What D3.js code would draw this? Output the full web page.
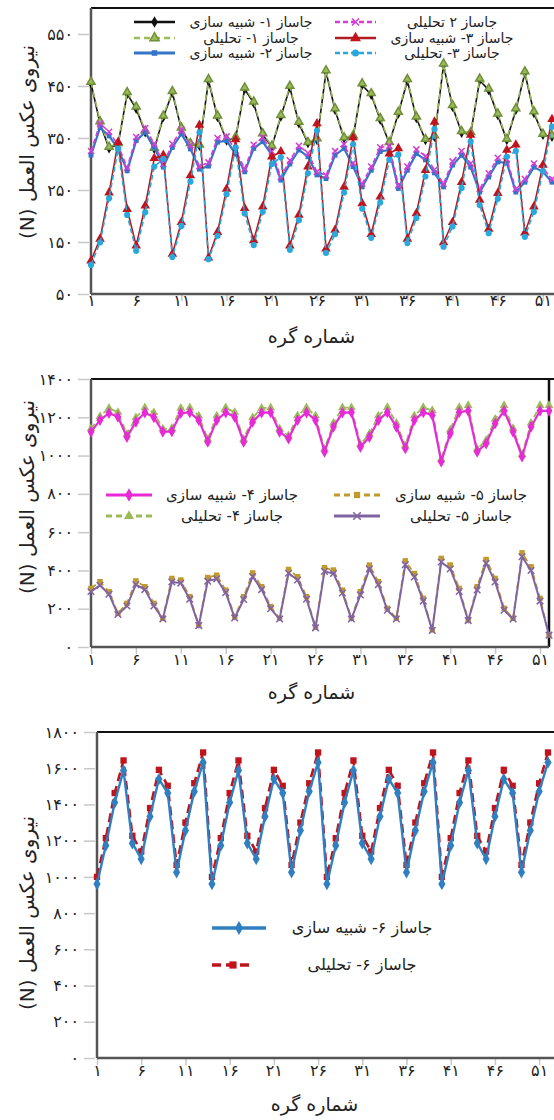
<!DOCTYPE html>
<html>
<head>
<meta charset="utf-8">
<script src="https://cdn.jsdelivr.net/npm/d3@7"></script>
<style>
  body { margin: 0; background: #fff; }
  text { font-family: "DejaVu Sans", sans-serif; }
</style>
</head>
<body>
<svg id="chart" width="554" height="1120"></svg>
<script>
// node numbers on the x axis
var nodes = d3.range(1, 53);
var xTickNodes = [1, 6, 11, 16, 21, 26, 31, 36, 41, 46, 51];

// panel 1 (jacks 1-3)
var yTicks1 = [50, 150, 250, 350, 450, 550];
var sim1 = [455,378,330,338,435,406,361,329,390,437,367,338,335,
            460,390,345,350,444,417,356,333,391,447,378,340,346,
            477,404,349,352,452,433,385,340,397,460,388,346,352,
            490,410,360,358,461,442,394,346,404,475,398,356,352];
var ana1 = [458,382,333,340,438,410,364,331,393,440,370,340,337,
            463,393,348,352,447,420,359,335,394,450,381,342,349,
            480,407,351,355,455,436,388,342,400,463,391,348,355,
            493,413,363,361,464,445,397,348,407,478,401,358,355];
var sim2 = [317,370,354,329,287,345,361,332,294,332,358,329,290,
            296,342,345,319,285,330,343,317,269,300,327,314,279,
            272,317,330,295,256,288,324,327,253,288,320,308,283,
            256,298,317,294,246,275,304,302,246,265,294,285,265];
var ana2 = [325,378,362,336,293,352,369,339,300,339,366,336,296,
            303,350,353,326,291,337,351,324,275,307,335,321,285,
            278,325,338,302,262,295,332,335,259,295,328,315,289,
            262,305,325,301,252,282,312,309,252,271,301,292,271];
var sim3 = [114,156,245,342,213,143,220,311,317,127,188,278,375,
            120,169,252,347,215,153,218,314,324,143,202,295,378,
            137,173,256,351,224,165,237,320,330,156,205,288,381,
            149,188,265,356,231,175,244,327,337,168,218,298,386];
var ana3 = [106,149,234,329,202,133,207,295,310,121,181,266,361,
            117,162,242,332,205,144,208,300,313,135,192,282,364,
            129,165,245,338,214,158,226,308,318,148,196,276,367,
            141,180,254,343,221,167,233,314,325,160,208,286,372];

// panel 2 (jacks 4-5)
var yTicks2 = [0, 200, 400, 600, 800, 1000, 1200, 1400];
var sim4 = [1124,1185,1222,1202,1097,1176,1225,1200,1124,1126,1222,1226,1185,
            1071,1185,1225,1202,1071,1176,1224,1226,1124,1089,1185,1225,1185,
            1020,1150,1224,1226,1045,1097,1185,1226,1150,1037,1185,1226,1211,
            968,1115,1226,1234,1020,1063,1167,1234,1124,994,1150,1234,1234];
var ana4 = [1140,1205,1248,1226,1112,1198,1250,1225,1140,1142,1248,1250,1208,
            1086,1208,1250,1226,1086,1198,1248,1250,1140,1104,1208,1250,1208,
            1034,1170,1250,1250,1060,1113,1208,1252,1170,1052,1208,1252,1236,
            980,1134,1252,1262,1034,1080,1190,1262,1142,1006,1170,1262,1262];
var sim5 = [306,341,289,176,228,345,315,228,150,358,350,263,115,
            363,375,297,158,263,387,315,211,150,405,367,263,103,
            414,402,297,150,289,428,341,202,150,450,384,254,89,
            463,428,306,141,315,457,358,202,150,492,419,254,63];
var ana5 = [290,322,276,170,214,326,300,214,146,340,334,250,112,
            344,356,284,152,248,368,300,200,146,385,350,250,100,
            395,384,282,146,272,408,326,192,146,430,366,240,86,
            444,408,290,138,298,438,340,192,146,472,400,240,62];

// panel 3 (jack 6)
var yTicks3 = [0, 200, 400, 600, 800, 1000, 1200, 1400, 1600, 1800];
var sim6 = [961,1173,1411,1588,1186,1099,1334,1540,1463,1025,1256,1472,1632,
            961,1173,1411,1588,1186,1099,1334,1540,1463,1025,1256,1472,1632,
            961,1173,1411,1588,1186,1099,1334,1540,1463,1025,1256,1472,1632,
            961,1173,1411,1588,1186,1099,1334,1540,1463,1025,1256,1472,1632];
var ana6 = [1000,1214,1463,1643,1227,1140,1380,1591,1503,1066,1300,1517,1687,
            1000,1214,1463,1643,1227,1140,1380,1591,1503,1066,1300,1517,1687,
            1000,1214,1463,1643,1227,1140,1380,1591,1503,1066,1300,1517,1687,
            1000,1214,1463,1643,1227,1140,1380,1591,1503,1066,1300,1517,1687];

var yTitle = "نیروی عکس العمل (N)";
var xTitle = "شماره گره";

function fa(v) {
    return String(v).replace(/\d/g, function(d) { return "۰۱۲۳۴۵۶۷۸۹"[d]; });
}

var svg = d3.select("#chart");

var panels = [
  {
    left: 91, right: 552, top: 8, bottom: 294, ymin: 50, ymax: 600, ticks: yTicks1,
    xlabY: 313, xtitleY: 343, ytitleY: 142, rightEdge: false,
    series: [
      {v: sim1, color: "#111", w: 1.6, sym: d3.symbolDiamond, ms: 30, fill: "#111"},
      {v: ana1, color: "#9bbb59", w: 1.6, dash: "6,4", sym: d3.symbolTriangle, ms: 28, fill: "#9bbb59", stroke: "#6f8f3a"},
      {v: sim2, color: "#3575c8", w: 2.2, sym: d3.symbolSquare, ms: 24, fill: "#3575c8"},
      {v: ana2, color: "#d23ed6", w: 1.6, dash: "5,3", sym: d3.symbolTimes, ms: 26, fill: "#d23ed6", stroke: "#d23ed6"},
      {v: sim3, color: "#b01c22", w: 1.6, sym: d3.symbolTriangle, ms: 40, fill: "#c0141c"},
      {v: ana3, color: "#2aa8dc", w: 1.6, dash: "5,3", sym: d3.symbolCircle, ms: 30, fill: "#2aa8dc"}
    ],
    legend: {font: 14, lineX: [134, 175, 335, 376], textX: [251, 452], rows: [22, 38, 53],
      items: [
        {s: 0, col: 0, row: 0, t: "جاساز ۱- شبیه سازی"},
        {s: 3, col: 1, row: 0, t: "جاساز ۲  تحلیلی"},
        {s: 1, col: 0, row: 1, t: "جاساز ۱- تحلیلی"},
        {s: 4, col: 1, row: 1, t: "جاساز ۳- شبیه سازی"},
        {s: 2, col: 0, row: 2, t: "جاساز ۲- شبیه سازی"},
        {s: 5, col: 1, row: 2, t: "جاساز ۳- تحلیلی"}
      ]}
  },
  {
    left: 91, right: 549, top: 379, bottom: 647, ymin: 0, ymax: 1400, ticks: yTicks2,
    xlabY: 672, xtitleY: 699, ytitleY: 497, rightEdge: true,
    series: [
      {v: ana4, color: "#9bbb59", w: 1.8, dash: "6,4", sym: d3.symbolTriangle, ms: 34, fill: "#9bbb59"},
      {v: sim4, color: "#e62ad6", w: 2.2, sym: d3.symbolDiamond, ms: 40, fill: "#e62ad6"},
      {v: sim5, color: "#c29a2c", w: 1.8, dash: "6,4", sym: d3.symbolSquare, ms: 30, fill: "#c29a2c"},
      {v: ana5, color: "#8064a2", w: 2, sym: d3.symbolTimes, ms: 30, fill: "#8064a2", stroke: "#8064a2"}
    ],
    legend: {font: 15, lineX: [106, 152, 334, 380], textX: [232, 461], rows: [495, 516],
      items: [
        {s: 1, col: 0, row: 0, t: "جاساز ۴- شبیه سازی"},
        {s: 2, col: 1, row: 0, t: "جاساز ۵- شبیه سازی"},
        {s: 0, col: 0, row: 1, t: "جاساز ۴- تحلیلی"},
        {s: 3, col: 1, row: 1, t: "جاساز ۵- تحلیلی"}
      ]}
  },
  {
    left: 97, right: 548, top: 732, bottom: 1058, ymin: 0, ymax: 1800, ticks: yTicks3,
    xlabY: 1083, xtitleY: 1111, ytitleY: 913, rightEdge: false,
    series: [
      {v: ana6, color: "#c0141c", w: 2.6, dash: "9,5", sym: d3.symbolSquare, ms: 40, fill: "#c0141c"},
      {v: sim6, color: "#2f7fc1", w: 2.4, sym: d3.symbolDiamond, ms: 44, fill: "#2f7fc1"}
    ],
    legend: {font: 16, lineX: [212, 266, 212, 254], textX: [362, 362], rows: [928, 965],
      items: [
        {s: 1, col: 0, row: 0, t: "جاساز ۶- شبیه سازی"},
        {s: 0, col: 1, row: 1, t: "جاساز ۶- تحلیلی"}
      ]}
  }
];

panels.forEach(function(p) {
    var x = d3.scaleLinear().domain([1, 52]).range([p.left, p.right]);
    var y = d3.scaleLinear().domain([p.ymin, p.ymax]).range([p.bottom, p.top]);
    var g = svg.append("g");

    // y ticks and labels
    var yAxis = d3.axisLeft(y).tickValues(p.ticks).tickSize(11).tickPadding(5).tickFormat(fa);
    var ya = g.append("g").attr("transform", "translate(" + (p.left - 2) + ",0)").call(yAxis);
    ya.select(".domain").remove();
    ya.selectAll("line").attr("stroke", "#c8c8c8").attr("stroke-width", 1.5);
    ya.selectAll("text").attr("font-size", 16).attr("fill", "#222")
        .style("font-family", "DejaVu Sans");

    // x ticks and labels
    var xAxis = d3.axisBottom(x).tickValues(xTickNodes).tickSize(6).tickFormat(fa);
    var xa = g.append("g").attr("transform", "translate(0," + (p.bottom + 1) + ")").call(xAxis);
    xa.select(".domain").remove();
    xa.selectAll("line").attr("stroke", "#c8c8c8").attr("stroke-width", 1.5);
    xa.selectAll("text").attr("font-size", 16).attr("fill", "#222")
        .attr("y", p.xlabY - p.bottom - 8).attr("dy", 0)
        .style("font-family", "DejaVu Sans");

    // frame
    g.append("line").attr("x1", p.left).attr("x2", 554).attr("y1", p.top).attr("y2", p.top)
        .attr("stroke", "#111").attr("stroke-width", 2);
    if (p.rightEdge) {
        g.append("line").attr("x1", p.right).attr("x2", p.right).attr("y1", p.top).attr("y2", p.bottom)
            .attr("stroke", "#111").attr("stroke-width", 2.5);
    }
    g.append("line").attr("x1", p.left).attr("x2", p.left).attr("y1", p.top).attr("y2", p.bottom)
        .attr("stroke", "#555").attr("stroke-width", 2.5);
    g.append("line").attr("x1", p.left).attr("x2", p.rightEdge ? p.right : 554).attr("y1", p.bottom).attr("y2", p.bottom)
        .attr("stroke", "#555").attr("stroke-width", 2.5);

    // series
    var line = d3.line().x(function(d, i) { return x(nodes[i]); }).y(function(d) { return y(d); });
    p.series.forEach(function(s) {
        g.append("path").datum(s.v)
            .attr("d", line)
            .attr("fill", "none")
            .attr("stroke", s.color)
            .attr("stroke-width", s.w)
            .attr("stroke-dasharray", s.dash || null);
        g.selectAll(null).data(s.v).enter().append("path")
            .attr("d", d3.symbol().type(s.sym).size(s.ms))
            .attr("transform", function(d, i) { return "translate(" + x(nodes[i]) + "," + y(d) + ")"; })
            .attr("fill", s.fill)
            .attr("stroke", s.stroke || "none")
            .attr("stroke-width", s.stroke ? 1.5 : 0);
    });

    // legend
    var L = p.legend;
    L.items.forEach(function(it) {
        var s = p.series[it.s];
        var x1 = L.lineX[it.col * 2], x2 = L.lineX[it.col * 2 + 1], ly = L.rows[it.row];
        g.append("line").attr("x1", x1).attr("x2", x2).attr("y1", ly).attr("y2", ly)
            .attr("stroke", s.color).attr("stroke-width", s.w + 1)
            .attr("stroke-dasharray", s.dash || null);
        g.append("path")
            .attr("d", d3.symbol().type(s.sym).size(s.ms * 1.3))
            .attr("transform", "translate(" + ((x1 + x2) / 2) + "," + ly + ")")
            .attr("fill", s.fill)
            .attr("stroke", s.stroke || "none")
            .attr("stroke-width", s.stroke ? 1.5 : 0);
        g.append("text").attr("x", L.textX[it.col]).attr("y", ly + 5)
            .attr("text-anchor", "middle").attr("direction", "rtl")
            .attr("font-size", L.font).attr("fill", "#222")
            .text(it.t);
    });

    // titles
    g.append("text").attr("x", (p.left + 552) / 2 - 10).attr("y", p.xtitleY)
        .attr("text-anchor", "middle").attr("direction", "rtl")
        .attr("font-size", 19).attr("fill", "#222").text(xTitle);
    g.append("text")
        .attr("transform", "translate(34," + p.ytitleY + ") rotate(-90)")
        .attr("text-anchor", "middle").attr("direction", "rtl")
        .attr("font-size", 20).attr("fill", "#222").text(yTitle);
});
</script>
</body>
</html>
